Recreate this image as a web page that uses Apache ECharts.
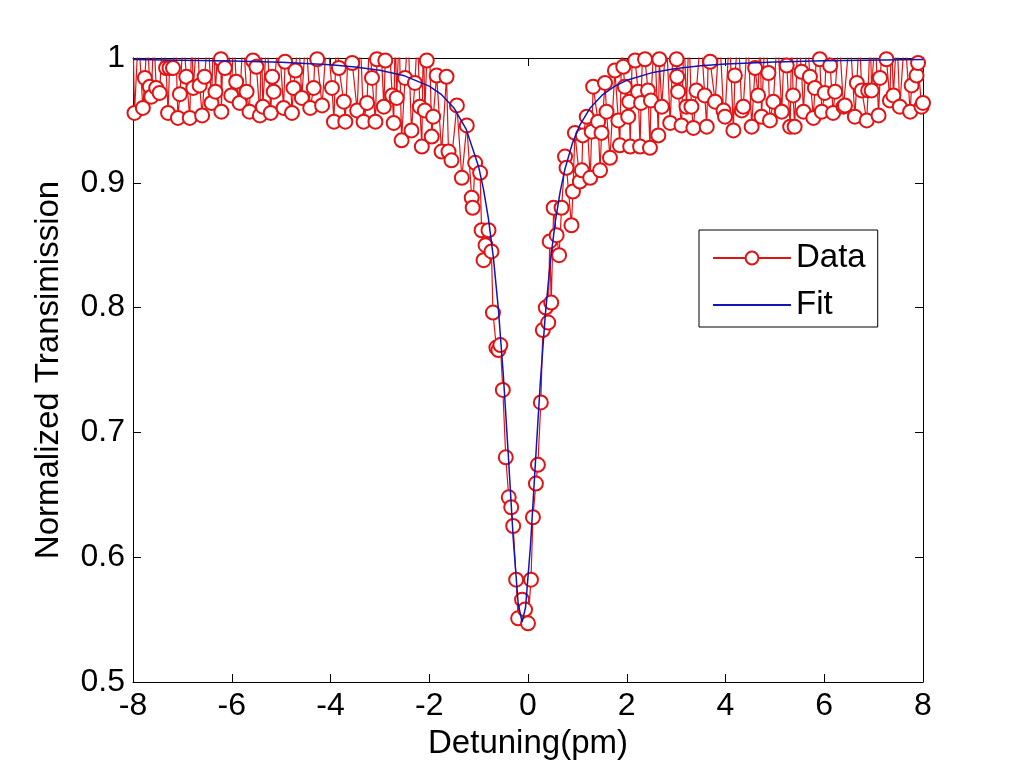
<!DOCTYPE html>
<html>
<head>
<meta charset="utf-8">
<title>Normalized Transmission</title>
<script src="https://cdn.jsdelivr.net/npm/echarts/dist/echarts.min.js"></script>
<style>
  html, body { margin: 0; padding: 0; background: #fff; }
  #chart { width: 1021px; height: 766px; }
</style>
</head>
<body>
<div id="chart"></div>
<script>
const leftX = [
  -8.00, -7.97, -7.89, -7.80, -7.76, -7.71, -7.66, -7.63, -7.58, -7.53,
  -7.46, -7.40, -7.33, -7.29, -7.26, -7.19, -7.14, -7.09, -7.05, -6.98,
  -6.92, -6.85, -6.81, -6.78, -6.70, -6.65, -6.60, -6.55, -6.48, -6.41,
  -6.37, -6.33, -6.27, -6.22, -6.21, -6.17, -6.14, -6.07, -6.01, -5.96,
  -5.91, -5.84, -5.77, -5.70, -5.64, -5.60, -5.57, -5.50, -5.43, -5.40,
  -5.37, -5.29, -5.21, -5.18, -5.15, -5.05, -4.95, -4.92, -4.85, -4.78,
  -4.75, -4.71, -4.65, -4.58, -4.50, -4.41, -4.34, -4.30, -4.27, -4.17,
  -4.07, -3.97, -3.93, -3.88, -3.83, -3.73, -3.70, -3.63, -3.56, -3.46,
  -3.40, -3.33, -3.26, -3.21, -3.16, -3.09, -3.06, -2.99, -2.92, -2.89,
  -2.82, -2.75, -2.72, -2.69, -2.66, -2.61, -2.56, -2.49, -2.43, -2.36,
  -2.29, -2.24, -2.19, -2.15, -2.12, -2.09, -2.05, -2.00
];
const leftY = [
  1.02, 0.956, 1.02, 0.960, 0.984, 1.02, 0.977, 0.969, 1.02, 0.976,
  0.972, 1.02, 0.992, 0.956, 0.992, 0.992, 1.02, 0.952, 0.971, 1.02,
  0.985, 0.952, 1.02, 0.976, 1.02, 0.978, 0.954, 0.985, 1.02, 0.964,
  1.02, 0.973, 1.02, 0.999, 0.957, 1.02, 0.992, 1.02, 0.970, 1.02,
  0.981, 0.964, 1.02, 0.973, 0.957, 1.02, 0.998, 0.993, 0.954, 1.02,
  0.961, 1.02, 0.956, 0.985, 0.973, 1.02, 0.960, 0.997, 1.02, 0.956,
  0.976, 0.990, 1.02, 0.968, 1.02, 0.960, 0.976, 1.02, 0.999, 0.962,
  1.02, 0.976, 0.949, 1.02, 0.992, 0.965, 0.949, 1.02, 0.996, 0.958,
  1.02, 0.949, 0.964, 1.02, 0.984, 0.949, 0.999, 1.02, 0.961, 0.998,
  1.02, 0.970, 0.948, 1.02, 0.968, 1.02, 0.934, 0.984, 1.02, 0.942,
  0.980, 1.02, 0.961, 0.929, 1.02, 0.958, 0.998, 1.02
];
const dipX = [
  -1.95, -1.92, -1.85, -1.75, -1.65, -1.61, -1.55, -1.44, -1.34, -1.24,
  -1.14, -1.12, -1.07, -0.97, -0.94, -0.90, -0.86, -0.80, -0.74, -0.71,
  -0.64, -0.60, -0.56, -0.51, -0.45, -0.39, -0.34, -0.30, -0.24, -0.20,
  -0.12, -0.06, 0.00, 0.06, 0.10, 0.16, 0.20, 0.26, 0.30, 0.36,
  0.41, 0.44, 0.47, 0.52, 0.58, 0.63, 0.68, 0.75, 0.78, 0.88,
  0.91, 0.95, 1.05, 1.09, 1.11, 1.19, 1.26, 1.29, 1.32, 1.42,
  1.46, 1.49, 1.56, 1.59, 1.66, 1.76, 1.83, 1.86
];
const dipY = [
  0.937, 0.953, 0.986, 0.925, 0.985, 0.925, 0.918, 0.962, 0.904, 0.946,
  0.888, 0.880, 0.916, 0.908, 0.862, 0.838, 0.850, 0.862, 0.845, 0.796,
  0.768, 0.766, 0.770, 0.734, 0.680, 0.648, 0.640, 0.625, 0.582, 0.551,
  0.566, 0.558, 0.547, 0.582, 0.632, 0.659, 0.674, 0.724, 0.782, 0.800,
  0.788, 0.853, 0.804, 0.880, 0.858, 0.842, 0.880, 0.921, 0.912, 0.866,
  0.893, 0.940, 0.901, 0.910, 0.938, 0.953, 0.904, 0.941, 0.977, 0.949,
  0.910, 0.940, 0.980, 0.957, 0.920, 0.990, 0.950, 0.930
];
const rightX = [
  1.90, 1.93, 1.96, 2.03, 2.05, 2.07, 2.12, 2.17, 2.23, 2.27,
  2.29, 2.33, 2.37, 2.43, 2.47, 2.49, 2.56, 2.64, 2.66, 2.71,
  2.80, 2.88, 2.95, 3.01, 3.02, 3.04, 3.11, 3.16, 3.21, 3.26,
  3.31, 3.35, 3.41, 3.50, 3.58, 3.62, 3.66, 3.69, 3.79, 3.88,
  3.96, 3.99, 4.08, 4.16, 4.19, 4.26, 4.33, 4.36, 4.45, 4.53,
  4.60, 4.66, 4.70, 4.73, 4.80, 4.87, 4.90, 4.97, 5.05, 5.14,
  5.20, 5.24, 5.31, 5.34, 5.37, 5.40, 5.47, 5.54, 5.58, 5.65,
  5.71, 5.78, 5.81, 5.86, 5.91, 5.95, 6.01, 6.06, 6.12, 6.18,
  6.22, 6.30, 6.39, 6.42, 6.52, 6.62, 6.66, 6.71, 6.76, 6.86,
  6.89, 6.93, 6.96, 7.03, 7.10, 7.13, 7.20, 7.26, 7.33, 7.36,
  7.40, 7.47, 7.53, 7.63, 7.74, 7.77, 7.82, 7.87, 7.90, 7.97, 8.00
];
const rightY = [
  1.02, 0.993, 0.977, 0.953, 0.965, 0.929, 1.02, 0.998, 0.973, 0.929,
  0.964, 1.02, 0.999, 0.974, 0.928, 0.966, 1.02, 0.938, 0.999, 0.961,
  1.02, 0.948, 1.02, 0.999, 0.985, 0.973, 0.946, 1.02, 0.961, 1.02,
  0.961, 0.944, 0.974, 1.02, 0.970, 0.945, 1.02, 0.997, 0.965, 1.02,
  0.958, 0.953, 1.02, 0.942, 0.986, 1.02, 0.958, 0.961, 1.02, 0.945,
  0.992, 0.970, 1.02, 0.953, 1.02, 0.988, 0.950, 0.965, 1.02, 0.957,
  1.02, 0.994, 0.945, 1.02, 0.970, 0.945, 1.02, 0.989, 0.957, 1.02,
  0.985, 0.952, 0.976, 1.02, 0.999, 0.957, 0.972, 1.02, 0.994, 0.956,
  0.973, 1.02, 0.961, 0.962, 1.02, 0.953, 0.980, 1.02, 0.974, 0.950,
  0.974, 1.02, 0.974, 1.02, 0.954, 0.984, 1.02, 0.999, 0.966, 1.02,
  0.970, 1.02, 0.961, 1.02, 0.957, 0.978, 1.02, 0.986, 0.996, 0.961, 0.964
];

// fitted curve, read at these detunings
const fitX = [-8, -6, -5, -4, -3.5, -3, -2.5, -2, -1.75, -1.5, -1.25, -1, -0.9, -0.8, -0.7,
  -0.6, -0.5, -0.4, -0.3, -0.2, -0.12, -0.05, 0.05, 0.15, 0.25, 0.35, 0.45, 0.55, 0.65,
  0.75, 0.9, 1.05, 1.25, 1.5, 1.75, 2, 2.5, 3, 3.5, 4, 5, 6, 8];
const fitY = [0.9987, 0.9976, 0.9965, 0.9945, 0.9928, 0.9901, 0.9857, 0.9775, 0.9706, 0.9600,
  0.9428, 0.9129, 0.8946, 0.8709, 0.8397, 0.7988, 0.7462, 0.6826, 0.6154, 0.5631, 0.548,
  0.5597, 0.6091, 0.6758, 0.7403, 0.7940, 0.8361, 0.8681, 0.8926, 0.9113, 0.9318, 0.9462,
  0.9595, 0.9702, 0.9773, 0.9821, 0.9881, 0.9916, 0.9937, 0.9951, 0.9968, 0.9978, 0.9987];

const xTicks = { min: -8, max: 8, interval: 2 };
const yTicks = { min: 0.5, max: 1, interval: 0.1 };

const dataX = leftX.concat(dipX, rightX);
const dataY = leftY.concat(dipY, rightY);

const font = "'Liberation Sans', Arial, sans-serif";
const chart = echarts.init(document.getElementById('chart'));

const boxAxis = {
  axisLine: { show: true, onZero: false, lineStyle: { color: '#000', width: 1 } },
  axisTick: { show: true, inside: true, length: 8, lineStyle: { color: '#000' } },
  splitLine: { show: false }
};

chart.setOption({
  animation: false,
  backgroundColor: '#fff',
  grid: { left: 133, right: 98, top: 58, bottom: 84 },
  legend: {
    orient: 'vertical',
    left: 699,
    top: 230,
    data: [
      { name: 'Data' },
      { name: 'Fit', itemStyle: { opacity: 0 } }
    ],
    backgroundColor: '#fff',
    borderColor: '#000',
    borderWidth: 1,
    padding: [11, 12, 5, 13],
    itemWidth: 78,
    itemHeight: 16,
    itemGap: 13,
    textStyle: { color: '#000', fontSize: 33, fontFamily: font, lineHeight: 34 }
  },
  xAxis: [
    Object.assign({}, boxAxis, {
      type: 'value',
      min: xTicks.min, max: xTicks.max, interval: xTicks.interval,
      name: 'Detuning(pm)',
      nameLocation: 'middle',
      nameGap: 45,
      nameTextStyle: { color: '#000', fontSize: 33, fontFamily: font },
      axisLabel: { color: '#000', fontSize: 32, fontFamily: font, margin: 8 }
    }),
    Object.assign({}, boxAxis, {
      type: 'value', position: 'top',
      min: xTicks.min, max: xTicks.max, interval: xTicks.interval,
      axisLabel: { show: false }
    })
  ],
  yAxis: [
    Object.assign({}, boxAxis, {
      type: 'value',
      min: yTicks.min, max: yTicks.max, interval: yTicks.interval,
      name: 'Normalized Transimission',
      nameLocation: 'middle',
      nameGap: 68,
      nameTextStyle: { color: '#000', fontSize: 33, fontFamily: font },
      axisLabel: { color: '#000', fontSize: 32, fontFamily: font, margin: 8 }
    }),
    Object.assign({}, boxAxis, {
      type: 'value', position: 'right',
      min: yTicks.min, max: yTicks.max, interval: yTicks.interval,
      axisLabel: { show: false }
    })
  ],
  series: [
    {
      name: 'Data',
      type: 'line',
      data: dataX.map((x, i) => [x, dataY[i]]),
      clip: true,
      symbol: 'emptyCircle',
      symbolSize: 14,
      showAllSymbol: true,
      color: '#e01414',
      lineStyle: { color: '#e01414', width: 1.2 },
      itemStyle: { color: '#e01414', borderColor: '#e01414', borderWidth: 1 },
      z: 2
    },
    {
      name: 'Fit',
      type: 'line',
      data: fitX.map((x, i) => [x, fitY[i]]),
      symbol: 'none',
      color: '#1414b4',
      lineStyle: { color: '#1414b4', width: 1.5 },
      z: 3
    }
  ]
});

window.addEventListener('resize', () => chart.resize());
</script>
</body>
</html>
